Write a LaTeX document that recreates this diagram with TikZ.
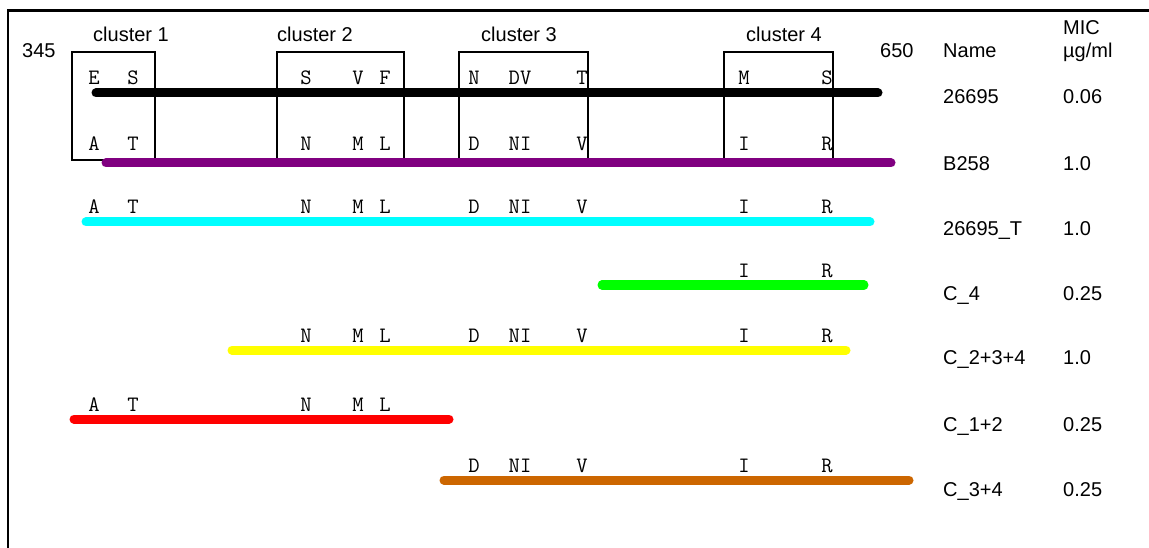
\documentclass[tikz,border=0pt]{standalone}
\usepackage{fontspec}
\setmainfont{Liberation Sans}
\definecolor{cpurple}{HTML}{800080}
\definecolor{ccyan}{HTML}{00FFFF}
\definecolor{cgreen}{HTML}{00FF00}
\definecolor{cyellow}{HTML}{FFFF00}
\definecolor{cred}{HTML}{FF0000}
\definecolor{corange}{HTML}{CC6600}
\begin{document}
\begin{tikzpicture}[x=1pt,y=-1pt,
  lab/.style={font=\fontsize{20}{22}\selectfont, inner sep=0pt, anchor=base west},
  clab/.style={font=\fontsize{20}{22}\selectfont, inner sep=0pt, anchor=base},
  aa/.style={font=\ttfamily\fontsize{22}{22}\selectfont, inner sep=0pt, anchor=base},
  bar/.style={line width=9pt, line cap=round},
  clbox/.style={draw, line width=1.8pt}]
\useasboundingbox (0,0) rectangle (1149,548);
% frame
\draw[line width=2.2pt] (8,548) -- (8,10.5) -- (1149,10.5);
% cluster boxes
\draw[clbox] (72,160) -- (72,52) -- (155,52) -- (155,160) -- cycle;
\draw[clbox] (277,160) -- (277,52) -- (404,52) -- (404,160);
\draw[clbox] (459,160) -- (459,52) -- (588,52) -- (588,160);
\draw[clbox] (724,160) -- (724,52) -- (833,52) -- (833,160);
% labels
\node[clab] (c1) at (131,42) {cluster 1};
\node[clab] (c2) at (315,42) {cluster 2};
\node[clab] (c3) at (519,42) {cluster 3};
\node[clab] (c4) at (784,42) {cluster 4};
\node[lab] (p345) at (22,58) {345};
\node[lab] (p650) at (880,58) {650};
\node[lab] (hname) at (943,58) {Name};
\node[lab] (hmic) at (1063,35) {MIC};
\node[lab] (hunit) at (1063,58) {µg/ml};
% bar coordinates
\coordinate (k1) at (96,93);  \coordinate (k2) at (878,93);
\coordinate (p1) at (106,163); \coordinate (p2) at (891,163);
\coordinate (cy1) at (86,222); \coordinate (cy2) at (870,222);
\coordinate (g1) at (602,285); \coordinate (g2) at (864,285);
\coordinate (y1) at (232,350); \coordinate (y2) at (846,350);
\coordinate (r1) at (74,419); \coordinate (r2) at (449,419);
\coordinate (o1) at (444,480); \coordinate (o2) at (909,480);
\draw[bar, black] (k1) -- (k2);
\draw[bar, cpurple] (p1) -- (p2);
\draw[bar, ccyan] (cy1) -- (cy2);
\draw[bar, cgreen] (g1) -- (g2);
\draw[bar, cyellow] (y1) -- (y2);
\draw[bar, cred] (r1) -- (r2);
\draw[bar, corange] (o1) -- (o2);
% row 1 letters (26695)
\node[aa] (a1) at (94,85) {E};
\node[aa] (a2) at (133,85) {S};
\node[aa] (a3) at (306,85) {S};
\node[aa] (a4) at (358,85) {V};
\node[aa] (a5) at (385,85) {F};
\node[aa] (a6) at (474,85) {N};
\node[aa] (a7) at (520,85) {DV};
\node[aa] (a8) at (582,85) {T};
\node[aa] (a9) at (744,85) {M};
\node[aa] (a10) at (827,85) {S};
% row 2 letters (B258)
\node[aa] (b1) at (94,151) {A};
\node[aa] (b2) at (133,151) {T};
\node[aa] (b3) at (306,151) {N};
\node[aa] (b4) at (358,151) {M};
\node[aa] (b5) at (385,151) {L};
\node[aa] (b6) at (474,151) {D};
\node[aa] (b7) at (520,151) {NI};
\node[aa] (b8) at (582,151) {V};
\node[aa] (b9) at (744,151) {I};
\node[aa] (b10) at (827,151) {R};
% row 3 (26695_T)
\node[aa] (t1) at (94,214) {A};
\node[aa] (t2) at (133,214) {T};
\node[aa] (t3) at (306,214) {N};
\node[aa] (t4) at (358,214) {M};
\node[aa] (t5) at (385,214) {L};
\node[aa] (t6) at (474,214) {D};
\node[aa] (t7) at (520,214) {NI};
\node[aa] (t8) at (582,214) {V};
\node[aa] (t9) at (744,214) {I};
\node[aa] (t10) at (827,214) {R};
% row 4 (C_4)
\node[aa] (g9) at (744,277) {I};
\node[aa] (g10) at (827,277) {R};
% row 5 (C_2+3+4)
\node[aa] (y3) at (306,342) {N};
\node[aa] (y4) at (358,342) {M};
\node[aa] (y5) at (385,342) {L};
\node[aa] (y6) at (474,342) {D};
\node[aa] (y7) at (520,342) {NI};
\node[aa] (y8) at (582,342) {V};
\node[aa] (y9) at (744,342) {I};
\node[aa] (y10) at (827,342) {R};
% row 6 (C_1+2)
\node[aa] (r1t) at (94,411) {A};
\node[aa] (r2t) at (133,411) {T};
\node[aa] (r3t) at (306,411) {N};
\node[aa] (r4t) at (358,411) {M};
\node[aa] (r5t) at (385,411) {L};
% row 7 (C_3+4)
\node[aa] (o6) at (474,472) {D};
\node[aa] (o7) at (520,472) {NI};
\node[aa] (o8) at (582,472) {V};
\node[aa] (o9) at (744,472) {I};
\node[aa] (o10) at (827,472) {R};
% names and MIC
\node[lab] (n1) at (943,104) {26695};   \node[lab] (m1) at (1063,104) {0.06};
\node[lab] (n2) at (943,171) {B258};    \node[lab] (m2) at (1063,171) {1.0};
\node[lab] (n3) at (943,236) {26695\_T}; \node[lab] (m3) at (1063,236) {1.0};
\node[lab] (n4) at (943,300) {C\_4};    \node[lab] (m4) at (1063,300) {0.25};
\node[lab] (n5) at (943,364) {C\_2+3+4}; \node[lab] (m5) at (1063,364) {1.0};
\node[lab] (n6) at (943,431) {C\_1+2};  \node[lab] (m6) at (1063,431) {0.25};
\node[lab] (n7) at (943,496) {C\_3+4};  \node[lab] (m7) at (1063,496) {0.25};
\end{tikzpicture}
\end{document}
